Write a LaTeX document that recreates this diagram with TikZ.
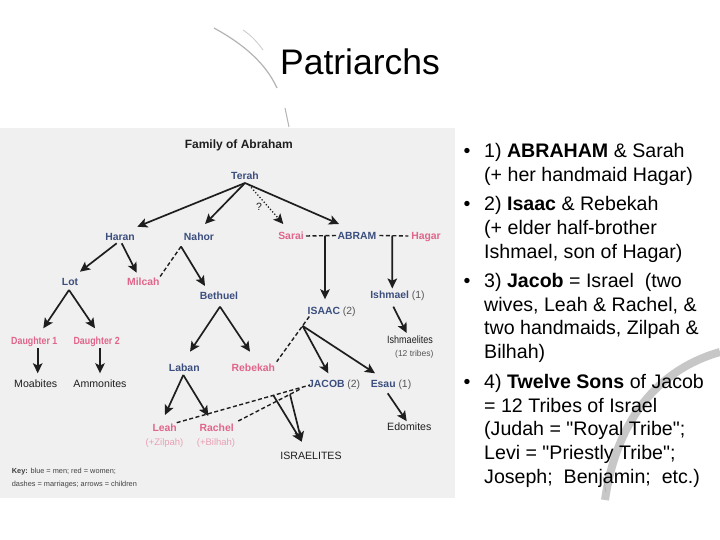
\documentclass[tikz,border=0pt]{standalone}
\usepackage{fontspec}
\usepackage{graphicx}
\setmainfont{Liberation Sans}
\newfontfamily\rawfont{Liberation Sans}
\usetikzlibrary{arrows.meta,calc}
\definecolor{men}{HTML}{3B4E7E}
\definecolor{wom}{HTML}{E0658A}
\definecolor{woml}{HTML}{E8A0B4}
\definecolor{note}{HTML}{555555}
\definecolor{panel}{HTML}{F0F0F0}
\definecolor{ink}{HTML}{1E1E1E}
\definecolor{deco}{HTML}{B4B4B4}
\newcommand{\sq}{{\rawfont"}}
\begin{document}
\begin{tikzpicture}[x=1pt,y=-1pt,
 lbl/.style={inner sep=0pt, text height=.716em, text depth=0pt},
 man/.style={lbl, text=men, font=\fontsize{10.4}{12}\selectfont\bfseries},
 woman/.style={lbl, text=wom, font=\fontsize{10.4}{12}\selectfont\bfseries},
 folk/.style={lbl, text=ink, font=\fontsize{10.6}{12}\selectfont},
 wnote/.style={lbl, text=woml, font=\fontsize{9.5}{11}\selectfont},
 keyt/.style={lbl, anchor=west, text=ink!85, font=\fontsize{7.35}{9}\selectfont},
 arr/.style={draw=ink, line width=1.7pt, -{Stealth[length=10pt,width=9.5pt,inset=2.2pt]}},
 wed/.style={draw=ink, line width=1.4pt, dash pattern=on 4pt off 2.5pt},
 guess/.style={draw=ink, line width=1.3pt, dash pattern=on 1.2pt off 2pt, -{Stealth[length=10pt,width=9.5pt,inset=2.2pt]}},
 bul/.style={inner sep=0pt, anchor=west, text height=.716em, text depth=0pt, font=\fontsize{19.6}{23}\selectfont},
 dot/.style={inner sep=0pt, text height=.716em, text depth=0pt, font=\fontsize{19.6}{23}\selectfont},
]
\useasboundingbox (0,0) rectangle (720,540);
\fill[white] (0,0) rectangle (720,540);
% decorative swooshes
\draw[deco, line width=1.2pt] (214,28) .. controls (245,45) and (266,64) .. (277,88);
\draw[deco!70, line width=0.8pt] (243,30) .. controls (252,36) and (258,43) .. (263,50);
\draw[deco, line width=1pt] (285,108) -- (289,127);
\draw[deco!75, line width=8pt] (605,500) .. controls (615,430) and (650,372) .. (720,352);
\draw[deco, line width=0.8pt] (603,477) -- (606,492);
% panel
\fill[panel] (0,128) rectangle (455,498);

% title
\node[inner sep=0pt, text height=.716em, text depth=0pt, font=\fontsize{35.5}{40}\selectfont] (title) at (360,71.3) {Patriarchs};

% diagram labels
\node[lbl, text=ink, font=\fontsize{12}{14}\selectfont\bfseries] (fam) at (238.8,145) {Family of Abraham};
\node[man] (terah) at (245,176) {Terah};
\node[man] (haran) at (120,236.5) {Haran};
\node[man] (nahor) at (199,236.5) {Nahor};
\node[woman] (sarai) at (291,236) {Sarai};
\node[man] (abram) at (357,235.5) {ABRAM};
\node[woman] (hagar) at (426,236) {Hagar};
\node[lbl, text=ink, font=\fontsize{10.5}{12}\selectfont] (qm) at (259,206.5) {?};
\node[man] (lot) at (70,281.7) {Lot};
\node[woman] (milcah) at (143.3,281.7) {Milcah};
\node[man] (bethuel) at (219,296) {Bethuel};
\node[woman] (dau1) at (34.3,340.7) {\scalebox{0.85}[1]{Daughter 1}};
\node[woman] (dau2) at (96.7,340.7) {\scalebox{0.85}[1]{Daughter 2}};
\node[folk] (moab) at (35.7,384) {Moabites};
\node[folk] (ammon) at (100,384) {Ammonites};
\node[man] (laban) at (184.3,368.3) {Laban};
\node[woman] (rebekah) at (253.3,368.3) {Rebekah};
\node[man] (isaac) at (331.7,310.8) {ISAAC {\mdseries\color{note}(2)}};
\node[man] (ishmael) at (397.5,294.5) {Ishmael {\mdseries\color{note}(1)}};
\node[folk] (ishites) at (410,340) {\scalebox{0.85}[1]{Ishmaelites}};
\node[lbl, text=note, font=\fontsize{8.5}{10}\selectfont] (tribes) at (414.3,353.3) {(12 tribes)};
\node[man] (jacob) at (334.2,383.5) {JACOB {\mdseries\color{note}(2)}};
\node[man] (esau) at (391,383.5) {Esau {\mdseries\color{note}(1)}};
\node[folk] (edom) at (409.3,426.7) {Edomites};
\node[woman] (leah) at (164.7,427.7) {Leah};
\node[wnote] (zilpah) at (164.5,442.3) {(+Zilpah)};
\node[woman] (rachel) at (216.7,428.3) {Rachel};
\node[wnote] (bilhah) at (216,441.5) {(+Bilhah)};
\node[folk] (isr) at (311,456) {ISRAELITES};
\node[keyt] (key1) at (11.7,470) {\textbf{Key:} blue = men; red = women;};
\node[keyt] (key2) at (11.7,483.3) {dashes = marriages; arrows = children};

% helper points
\coordinate (tfoot) at ([shift={(0,7)}]terah.center);
\coordinate (nfork) at ([shift={(-18,10)}]nahor.center);
\coordinate (sa) at ([shift={(15,0)}]sarai.center);
\coordinate (as) at ([shift={(-20.3,0)}]abram.center);
\coordinate (ah) at ([shift={(22.3,0)}]abram.center);
\coordinate (ha) at ([shift={(-17.7,0)}]hagar.center);
\coordinate (ir) at ([shift={(-22.4,5.7)}]isaac.center);
\coordinate (ri) at ([shift={(23.4,-6.6)}]rebekah.center);
\coordinate (lj) at ([shift={(12,-5)}]leah.center);
\coordinate (jl) at ([shift={(-24.2,1.5)}]jacob.center);
\coordinate (rj) at ([shift={(21.6,-7.3)}]rachel.center);
\coordinate (jr) at ([shift={(-32.5,4.8)}]jacob.center);

% connectors
\draw[arr] (tfoot) -- ([shift={(17.3,-9.8)}]haran.center);
\draw[arr] (tfoot) -- ([shift={(6,-12.5)}]nahor.center);
\draw[arr] (tfoot) -- ([shift={(-18,-11.5)}]abram.center);
\draw[guess] ([shift={(4,9)}]terah.center) -- ([shift={(-7.7,-12)}]sarai.center);
\draw[arr] ([shift={(-3.3,6.8)}]haran.center) -- ([shift={(10,-10)}]lot.center);
\draw[arr] ([shift={(1.7,6.8)}]haran.center) -- ([shift={(-6.6,-9)}]milcah.center);
\draw[wed] (nfork) -- ([shift={(16,-4)}]milcah.center);
\draw[arr] (nfork) -- ([shift={(-14,-10)}]bethuel.center);
\draw[arr] ([shift={(-1,8.3)}]lot.center) -- ([shift={(9,-12.4)}]dau1.center);
\draw[arr] ([shift={(-1,8.3)}]lot.center) -- ([shift={(-1.7,-12.4)}]dau2.center);
\draw[arr] ([shift={(3.4,7.6)}]dau1.center) -- ([shift={(2,-10.7)}]moab.center);
\draw[arr] ([shift={(3.3,7.6)}]dau2.center) -- ([shift={(0,-10.7)}]ammon.center);
\draw[arr] ([shift={(1,10.7)}]bethuel.center) -- ([shift={(5.7,-16.6)}]laban.center);
\draw[arr] ([shift={(1,10.7)}]bethuel.center) -- ([shift={(-3.3,-16.6)}]rebekah.center);
\draw[wed] (sa) -- (as);
\draw[wed] (ah) -- (ha);
\draw[arr] ($(sa)!0.619!(as)$) -- ([shift={(-6.7,-11.5)}]isaac.center);
\draw[arr] ($(ah)!0.448!(ha)$) -- ([shift={(-5.2,-6)}]ishmael.center);
\draw[arr] ([shift={(-4.2,12.2)}]ishmael.center) -- ([shift={(-3.3,-7)}]ishites.center);
\draw[wed] (ir) -- (ri);
\draw[arr] ($(ir)!0.207!(ri)$) -- ([shift={(-5.9,-10.2)}]jacob.center);
\draw[arr] ($(ir)!0.207!(ri)$) -- ([shift={(-16,-10.2)}]esau.center);
\draw[arr] ([shift={(-3.3,9.8)}]esau.center) -- ([shift={(-2.6,-5.5)}]edom.center);
\draw[arr] ([shift={(-1,6.7)}]laban.center) -- ([shift={(0.3,-12.7)}]leah.center);
\draw[arr] ([shift={(-1,6.7)}]laban.center) -- ([shift={(-8.4,-12.3)}]rachel.center);
\draw[wed] (lj) -- (jl);
\draw[wed] (rj) -- (jr);
\draw[arr] ($(lj)!0.725!(jl)$) -- ([shift={(-9.3,-14.3)}]isr.center);
\draw[arr] ($(rj)!0.815!(jr)$) -- ([shift={(-9.3,-14.3)}]isr.center);

% bullet list
\node[dot] (d1) at (467,154) {•};
\node[bul] (t1a) at (484,154) {1) \textbf{ABRAHAM} \& Sarah};
\node[bul] (t1b) at (484,177.5) {(+ her handmaid Hagar)};
\node[dot] (d2) at (467,207) {•};
\node[bul] (t2a) at (484,207) {2) \textbf{Isaac} \& Rebekah};
\node[bul] (t2b) at (484,231) {(+ elder half-brother};
\node[bul] (t2c) at (484,254.5) {Ishmael, son of Hagar)};
\node[dot] (d3) at (467,284) {•};
\node[bul] (t3a) at (484,284) {3) \textbf{Jacob} = Israel\ \ (two};
\node[bul] (t3b) at (484,307.5) {wives, Leah \& Rachel, \&};
\node[bul] (t3c) at (484,331) {two handmaids, Zilpah \&};
\node[bul] (t3d) at (484,354.5) {Bilhah)};
\node[dot] (d4) at (467,385) {•};
\node[bul] (t4a) at (484,385) {4) \textbf{Twelve Sons} of Jacob};
\node[bul] (t4b) at (484,408.5) {= 12 Tribes of Israel};
\node[bul] (t4c) at (484,432) {(Judah = \sq Royal Tribe\sq;};
\node[bul] (t4d) at (484,456) {Levi = \sq Priestly Tribe\sq;};
\node[bul] (t4e) at (484,480) {Joseph;\ \ Benjamin;\ \ etc.)};
\end{tikzpicture}
\end{document}
